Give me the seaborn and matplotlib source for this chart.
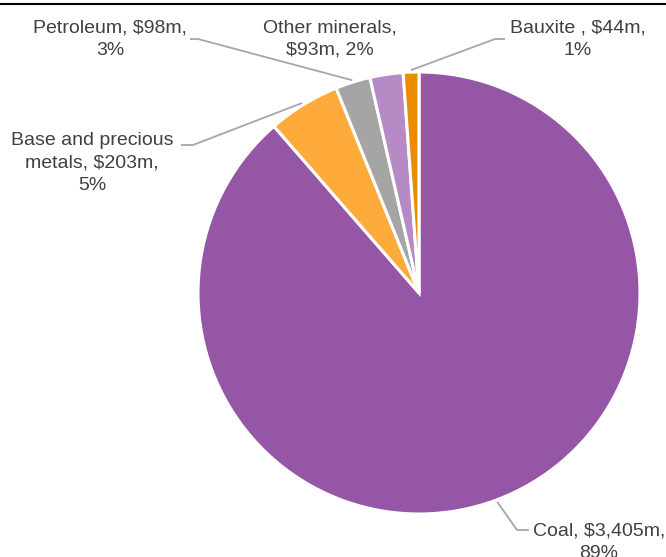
import numpy as np
import matplotlib
matplotlib.use("Agg")
import matplotlib.pyplot as plt
from matplotlib import font_manager
import seaborn as sns

sns.set_theme(style="white")
_names = {f.name for f in font_manager.fontManager.ttflist}
_label_family = "Liberation Sans Narrow" if "Liberation Sans Narrow" in _names else "Liberation Sans"
plt.rcParams["font.family"] = [_label_family, "DejaVu Sans"]

# Export value by commodity, in $ millions
categories = ["Coal", "Base and precious metals", "Petroleum", "Other minerals", "Bauxite "]
values = [3405, 203, 98, 93, 44]
colors = ["#9656A6", "#FFAB3C", "#A5A5A5", "#B68AC5", "#EB8C00"]

label_text = {
    "Coal": "Coal, ${v:,}m,\n{p}%",
    "Base and precious metals": "Base and precious\nmetals, ${v:,}m,\n{p}%",
    "Petroleum": "Petroleum, ${v:,}m,\n{p}%",
    "Other minerals": "Other minerals,\n${v:,}m, {p}%",
    "Bauxite ": "Bauxite , ${v:,}m,\n{p}%",
}
# label centres (px from bottom-left)
label_pos = {
    "Coal": (599, 15),
    "Base and precious metals": (92, 394),
    "Petroleum": (110, 518),
    "Other minerals": (330, 518),
    "Bauxite ": (578, 518),
}
# leader line bends after leaving the wedge edge
leader = {
    "Coal": [(517, 27), (529, 27)],
    "Base and precious metals": [(193, 412), (181, 412)],
    "Petroleum": [(198, 518), (190, 518)],
    "Other minerals": None,
    "Bauxite ": [(495, 518), (505, 518)],
}

W, H = 666, 557
fig = plt.figure(figsize=(W / 100, H / 100), dpi=100)
ax = fig.add_axes([0, 0, 1, 1])

center = (419, 264)
radius = 221
wedges, _ = ax.pie(
    values, colors=colors, startangle=90, counterclock=False,
    center=center, radius=radius, frame=True,
    wedgeprops=dict(edgecolor="white", linewidth=2.2),
)
ax.set_xlim(0, W)
ax.set_ylim(0, H)
ax.set_aspect("equal")
ax.axis("off")

narrow = _label_family.endswith("Narrow")
fsize = 17 if narrow else 14
lsp = 0.95 if narrow else 1.4

total = sum(values)
for cat, val, w in zip(categories, values, wedges):
    pct = round(100 * val / total)
    txt = label_text[cat].format(v=val, p=pct)
    ang = np.deg2rad((w.theta1 + w.theta2) / 2)
    edge = (center[0] + (radius + 2) * np.cos(ang), center[1] + (radius + 2) * np.sin(ang))
    if leader[cat] is not None:
        pts = [edge] + leader[cat]
        ax.plot([p[0] for p in pts], [p[1] for p in pts], color="#A6A6A6", lw=1.3,
                solid_capstyle="butt", zorder=1)
    tx, ty = label_pos[cat]
    ax.text(tx, ty, txt, ha="center", va="center", fontsize=fsize, color="#404040",
            linespacing=lsp, clip_on=False)

# top rule
ax.plot([0, W], [H - 3.5, H - 3.5], color="black", lw=1.5, clip_on=False)

fig.savefig("out.png", dpi=100)
